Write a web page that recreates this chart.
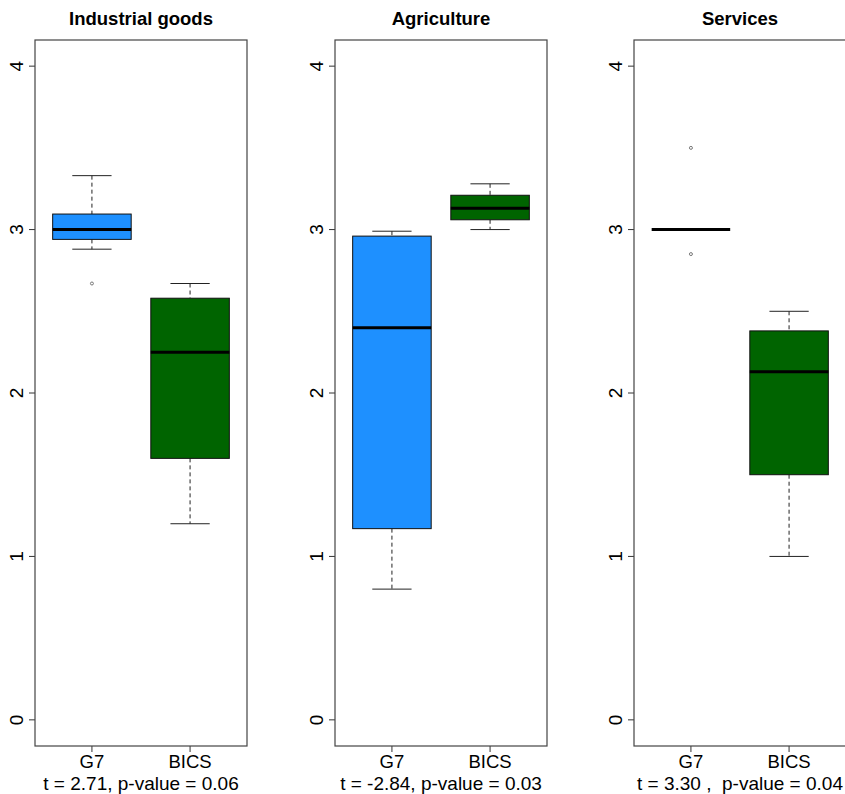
<!DOCTYPE html>
<html>
<head>
<meta charset="utf-8">
<script src="https://cdn.jsdelivr.net/npm/d3@7"></script>
<style>
  body { margin: 0; background: #fff; }
  svg { display: block; font-family: 'Liberation Sans', Arial, sans-serif; }
</style>
</head>
<body>
<div id="chart"></div>
<script>
// data
const panelTitles = ['Industrial goods', 'Agriculture', 'Services']
const groups = ['G7', 'BICS']
const testLabels = ['t = 2.71, p-value = 0.06', 't = -2.84, p-value = 0.03', 't = 3.30 ,  p-value = 0.04']
const lowerWhisker = [[2.88, 1.2], [0.8, 3.0], [3.0, 1.0]]
const q1 = [[2.94, 1.6], [1.17, 3.06], [3.0, 1.5]]
const medians = [[3.0, 2.25], [2.4, 3.13], [3.0, 2.13]]
const q3 = [[3.095, 2.58], [2.96, 3.21], [3.0, 2.38]]
const upperWhisker = [[3.33, 2.67], [2.99, 3.28], [3.0, 2.5]]
const outliers = [[[2.67], []], [[], []], [[3.5, 2.85], []]]
const yTicks = [0, 1, 2, 3, 4]
const groupColors = ['#1e90ff', '#006400']

var width = 845,
  height = 794,
  panelW = 212,
  panelTop = 40,
  panelBottom = 746,
  panelLeft = [35, 335, 634]

var svg = d3
  .select('#chart')
  .append('svg')
  .attr('width', width)
  .attr('height', height)

// R style: ylim 0..4 extended by 4%
var y = d3
  .scaleLinear()
  .domain([-0.16, 4.16])
  .range([panelBottom, panelTop])

panelTitles.forEach(function(title, p) {
  var x = d3
    .scaleLinear()
    .domain([0.42, 2.58])
    .range([panelLeft[p], panelLeft[p] + panelW])
  var unit = x(1) - x(0)

  var g = svg.append('g')

  g.append('text')
    .attr('x', panelLeft[p] + panelW / 2)
    .attr('y', 25)
    .attr('text-anchor', 'middle')
    .attr('font-weight', 'bold')
    .attr('font-size', 18.5)
    .text(title)

  // y axis ticks, labels rotated as in base R
  g.selectAll('.ytick')
    .data(yTicks)
    .enter()
    .append('line')
    .attr('x1', panelLeft[p] - 6)
    .attr('x2', panelLeft[p])
    .attr('y1', d => y(d))
    .attr('y2', d => y(d))
    .attr('stroke', '#333')
  g.selectAll('.ylab')
    .data(yTicks)
    .enter()
    .append('text')
    .attr('transform', d => 'translate(' + (panelLeft[p] - 12) + ',' + y(d) + ') rotate(-90)')
    .attr('text-anchor', 'middle')
    .attr('font-size', 19)
    .text(d => d)

  // x axis ticks and labels
  groups.forEach(function(name, i) {
    g.append('line')
      .attr('x1', x(i + 1))
      .attr('x2', x(i + 1))
      .attr('y1', panelBottom)
      .attr('y2', panelBottom + 6)
      .attr('stroke', '#333')
    g.append('text')
      .attr('x', x(i + 1))
      .attr('y', 768)
      .attr('text-anchor', 'middle')
      .attr('font-size', 18.5)
      .text(name)
  })

  g.append('text')
    .attr('x', panelLeft[p] + panelW / 2)
    .attr('y', 790)
    .attr('text-anchor', 'middle')
    .attr('font-size', 19)
    .style('white-space', 'pre')
    .text(testLabels[p])

  // boxes
  groups.forEach(function(name, i) {
    var cx = x(i + 1),
      half = unit * 0.4,
      cap = unit * 0.2

    // whiskers
    g.append('line')
      .attr('x1', cx).attr('x2', cx)
      .attr('y1', y(upperWhisker[p][i])).attr('y2', y(q3[p][i]))
      .attr('stroke', '#222')
      .attr('stroke-dasharray', '4,3')
    g.append('line')
      .attr('x1', cx).attr('x2', cx)
      .attr('y1', y(q1[p][i])).attr('y2', y(lowerWhisker[p][i]))
      .attr('stroke', '#222')
      .attr('stroke-dasharray', '4,3')
    ;[upperWhisker[p][i], lowerWhisker[p][i]].forEach(function(v) {
      g.append('line')
        .attr('x1', cx - cap).attr('x2', cx + cap)
        .attr('y1', y(v)).attr('y2', y(v))
        .attr('stroke', '#222')
    })

    g.append('rect')
      .attr('x', cx - half)
      .attr('width', half * 2)
      .attr('y', y(q3[p][i]))
      .attr('height', y(q1[p][i]) - y(q3[p][i]))
      .attr('fill', groupColors[i])
      .attr('stroke', '#111')

    g.append('line')
      .attr('x1', cx - half).attr('x2', cx + half)
      .attr('y1', y(medians[p][i])).attr('y2', y(medians[p][i]))
      .attr('stroke', '#000')
      .attr('stroke-width', 3)

    g.selectAll('.out' + i)
      .data(outliers[p][i])
      .enter()
      .append('circle')
      .attr('cx', cx)
      .attr('cy', d => y(d))
      .attr('r', 1.5)
      .attr('fill', 'none')
      .attr('stroke', '#777')
  })

  // frame
  g.append('rect')
    .attr('x', panelLeft[p])
    .attr('y', panelTop)
    .attr('width', panelW)
    .attr('height', panelBottom - panelTop)
    .attr('fill', 'none')
    .attr('stroke', '#444')
    .attr('stroke-width', 1.2)
})
</script>
</body>
</html>
